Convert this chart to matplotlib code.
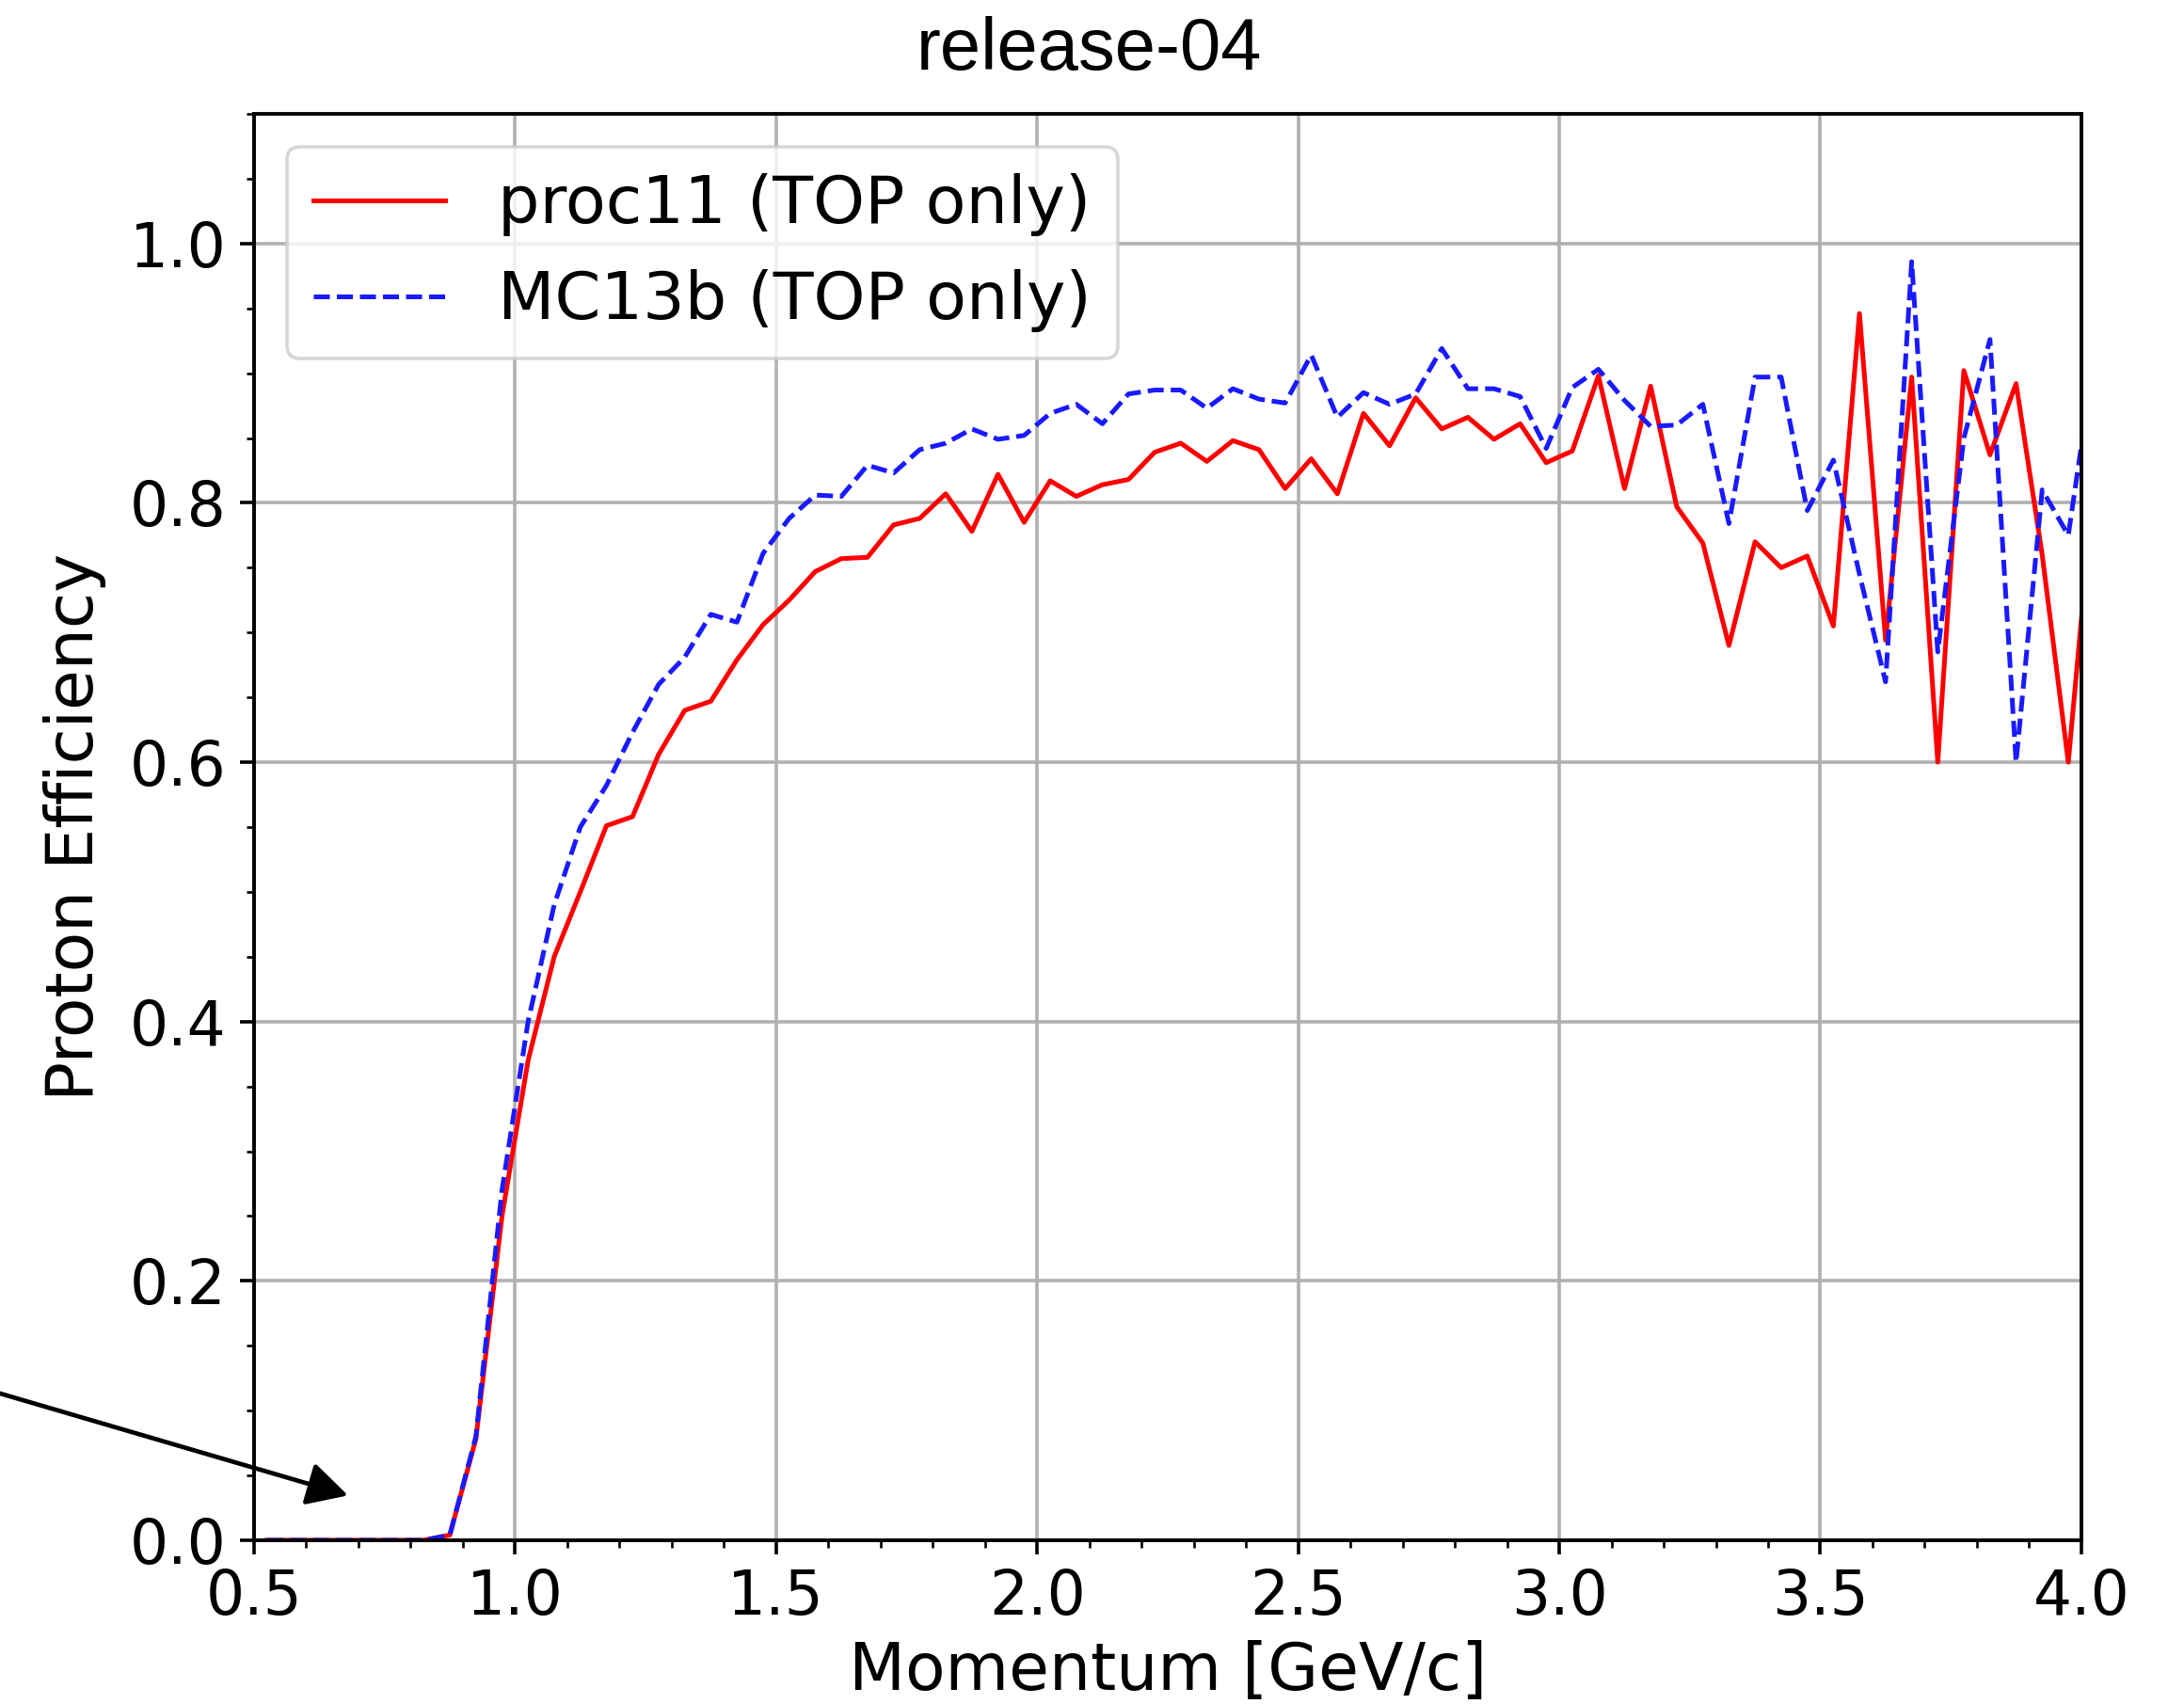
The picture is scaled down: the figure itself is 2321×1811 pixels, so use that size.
import numpy as np
import matplotlib
matplotlib.use("Agg")
import matplotlib.pyplot as plt
from matplotlib.ticker import MultipleLocator

# momentum bin centres, 0.05 GeV/c wide (last bin lies just past the axis limit)
momentum = np.arange(71) * 0.05 + 0.525

eff_proc11 = [
    0.0, 0.0, 0.0, 0.0, 0.0, 0.0, 0.0, 0.004, 0.078, 0.25,
    0.37, 0.45, 0.50, 0.551, 0.558, 0.606, 0.640, 0.647, 0.679, 0.706,
    0.725, 0.747, 0.757, 0.758, 0.783, 0.788, 0.807, 0.778, 0.822, 0.785,
    0.817, 0.805, 0.814, 0.818, 0.839, 0.846, 0.832, 0.848, 0.841, 0.811,
    0.834, 0.807, 0.869, 0.844, 0.881, 0.857, 0.866, 0.849, 0.861, 0.831,
    0.840, 0.898, 0.811, 0.890, 0.797, 0.769, 0.690, 0.770, 0.750, 0.759,
    0.705, 0.946, 0.694, 0.897, 0.600, 0.902, 0.837, 0.892, 0.760, 0.600,
    0.82,
]

eff_mc13b = [
    0.0, 0.0, 0.0, 0.0, 0.0, 0.0, 0.0, 0.004, 0.080, 0.27,
    0.40, 0.49, 0.55, 0.582, 0.623, 0.660, 0.681, 0.714, 0.708, 0.761,
    0.788, 0.806, 0.805, 0.829, 0.823, 0.841, 0.846, 0.857, 0.849, 0.852,
    0.869, 0.876, 0.861, 0.884, 0.887, 0.887, 0.873, 0.888, 0.880, 0.877,
    0.914, 0.866, 0.885, 0.876, 0.884, 0.919, 0.888, 0.888, 0.882, 0.842,
    0.889, 0.903, 0.879, 0.859, 0.860, 0.876, 0.784, 0.897, 0.897, 0.794,
    0.833, 0.745, 0.662, 0.986, 0.685, 0.850, 0.926, 0.600, 0.810, 0.775,
    0.913,
]

fig = plt.figure(figsize=(23.21, 18.11), dpi=100)
ax = fig.add_axes([0.1163, 0.0961, 0.8367, 0.8371])

ax.plot(momentum, eff_proc11, color="red", lw=3.6, label="proc11 (TOP only)")
ax.plot(momentum, eff_mc13b, color="#1a1aff", lw=3.6, ls=(0, (3.4, 1.5)),
        label="MC13b (TOP only)")

ax.set_xlim(0.5, 4.0)
ax.set_ylim(0.0, 1.1)
ax.xaxis.set_major_locator(MultipleLocator(0.5))
ax.xaxis.set_minor_locator(MultipleLocator(0.1))
ax.yaxis.set_major_locator(MultipleLocator(0.2))
ax.yaxis.set_minor_locator(MultipleLocator(0.05))
ax.tick_params(which="major", length=10.5, width=2.6, pad=10.5, labelsize=46.5)
ax.tick_params(which="minor", length=6, width=1.9)
for s in ax.spines.values():
    s.set_linewidth(2.8)

ax.grid(True, color="#b0b0b0", lw=2.6)
ax.set_axisbelow(True)

ax.set_xlabel("Momentum [GeV/c]", fontsize=50, labelpad=9)
ax.set_ylabel("Proton Efficiency", fontsize=50, labelpad=18)

leg = ax.legend(loc="upper left", fontsize=50.5, framealpha=0.8)
leg.get_frame().set_linewidth(2.6)

# note arrow pointing at the dead region below threshold
ax.annotate("", xy=(0.685, 0.034), xycoords="data",
            xytext=(-0.01, 0.186), textcoords="figure fraction",
            arrowprops=dict(arrowstyle="-|>,head_length=0.6,head_width=0.32",
                            color="black", lw=3.4, mutation_scale=44),
            annotation_clip=False)

fig.text(0.4985, 0.959, "release-04", ha="center", va="baseline",
         fontsize=56, family="Liberation Sans")

fig.savefig("out.png", dpi=100)
